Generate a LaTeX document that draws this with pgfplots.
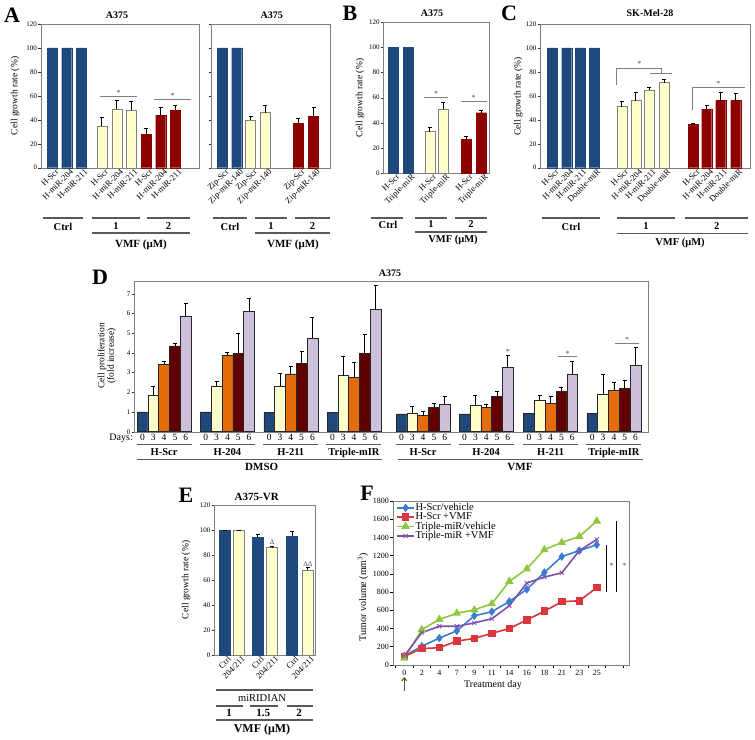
\documentclass[border=0pt]{standalone}
\usepackage{pgfplots}
\pgfplotsset{compat=1.18}
\usepackage{fontspec}
\setmainfont{Liberation Serif}
\usetikzlibrary{arrows.meta}
\definecolor{navy}{RGB}{31,73,125}
\definecolor{ly}{RGB}{255,255,204}
\definecolor{dred}{RGB}{140,0,0}
\definecolor{dorange}{RGB}{228,108,10}
\definecolor{maroon}{RGB}{96,0,0}
\definecolor{lav}{RGB}{204,192,218}
\definecolor{fblue}{RGB}{58,125,206}
\definecolor{fred}{RGB}{217,54,62}
\definecolor{fgreen}{RGB}{141,198,63}
\definecolor{fpurple}{RGB}{126,79,174}
\definecolor{olive}{RGB}{79,98,40}
\newcommand{\fs}[1]{\fontsize{#1}{#1}\selectfont}
\pgfplotsset{
  bax/.style={scale only axis, clip=false, axis line style={gray},
    ymin=0, ymax=120, ytick={0,20,...,120}, tick align=outside, ytick pos=left,
    major tick length=2.5pt, ytick style={black!80},
    xtick style={draw=none},
    yticklabel style={font=\fs{7}, inner sep=1pt},
    xticklabel style={font=\fs{8.5}, rotate=45, anchor=north east, inner sep=0.5pt, xshift=4pt},
    /pgf/number format/assume math mode=true},
  eb/.style={error bars/.cd, y dir=plus, y explicit,
    error bar style={black, line width=0.7pt},
    error mark options={rotate=90, mark size=2pt, black, line width=0.7pt}},
  bb/.style={ybar, bar shift=0pt, bar width=#1, fill=navy, draw=navy},
  by/.style={ybar, bar shift=0pt, bar width=#1, fill=ly, draw=gray},
  br/.style={ybar, bar shift=0pt, bar width=#1, fill=dred, draw=dred},
  db/.style={ybar, bar shift=0pt, bar width=10.8, fill=#1, draw=black!85, line width=0.5pt},
}
\tikzset{gl/.style={black!65, line width=1.2pt}, sg/.style={gray, line width=0.6pt},
  st/.style={font=\fs{8}, inner sep=0pt, text=black!70}}
\begin{document}
\begin{tikzpicture}
\path[use as bounding box] (0,0) rectangle (755pt,-739pt);
% ---------------- A left
\begin{axis}[bax, at={(40.7pt,-167.7pt)}, anchor=south west, width=158.3pt, height=143.7pt,
  xmin=40.7, xmax=199, xtick={52.2,66.7,81.2,101.7,116.7,131.2,146,160.7,175.2},
  xticklabels={H-Scr,H-miR-204,H-miR-211,H-Scr,H-miR-204,H-miR-211,H-Scr,H-miR-204,H-miR-211}]
\addplot[bb=10] coordinates {(52.2,100)(66.7,100)(81.2,100)};
\addplot[by=10, eb] coordinates {(101.7,35)+-(0,7) (116.7,49)+-(0,7) (131.2,48)+-(0,7)};
\addplot[br=10, eb] coordinates {(146,28)+-(0,5) (160.7,44)+-(0,6) (175.2,48)+-(0,4)};
\draw[sg] (axis cs:100,60) -- (axis cs:137,60);
\node[st, above] at (axis cs:118.5,60.5) {*};
\draw[sg] (axis cs:154,57) -- (axis cs:191,57);
\node[st, above] at (axis cs:172.5,57.5) {*};
\end{axis}
% ---------------- A right
\begin{axis}[bax, at={(211pt,-167.7pt)}, anchor=south west, width=119pt, height=143.7pt,
  xmin=211, xmax=330, yticklabels={}, xtick={222.3,236.7,250.5,265.3,298.3,313.6},
  xticklabels={Zip-Scr,Zip-miR-140,Zip-Scr,Zip-miR-140,Zip-Scr,Zip-miR-140}]
\addplot[bb=10] coordinates {(222.3,100)(236.7,100)};
\addplot[by=10, eb] coordinates {(250.5,40)+-(0,3) (265.3,46)+-(0,6)};
\addplot[br=10, eb] coordinates {(298.3,37)+-(0,4) (313.6,43)+-(0,7)};
\end{axis}
% ---------------- B
\begin{axis}[bax, at={(383.3pt,-173pt)}, anchor=south west, width=106pt, height=150.7pt,
  xmin=383.3, xmax=489.3, xtick={393,408,429.7,443,466.3,481.3},
  xticklabels={H-Scr,Triple-miR,H-Scr,Triple-miR,H-Scr,Triple-miR}]
\addplot[bb=10] coordinates {(393,100)(408,100)};
\addplot[by=10, eb] coordinates {(429.7,33)+-(0,3) (443,51)+-(0,5)};
\addplot[br=10, eb] coordinates {(466.3,27)+-(0,2) (481.3,48)+-(0,2)};
\draw[sg] (axis cs:424,60) -- (axis cs:447.7,60);
\node[st, above] at (axis cs:436,60.5) {*};
\draw[sg] (axis cs:460.7,57) -- (axis cs:486.7,57);
\node[st, above] at (axis cs:473.5,57.5) {*};
\end{axis}
% ---------------- C
\begin{axis}[bax, at={(540pt,-167.7pt)}, anchor=south west, width=210pt, height=143.7pt,
  xmin=540, xmax=750, xtick={552.3,566.7,580,594,621.7,635.7,649.3,664,693.3,706.7,720.7,735.7},
  xticklabels={H-Scr,H-miR-204,H-miR-211,Double-miR,H-Scr,H-miR-204,H-miR-211,Double-miR,H-Scr,H-miR-204,H-miR-211,Double-miR}]
\addplot[bb=10] coordinates {(552.3,100)(566.7,100)(580,100)(594,100)};
\addplot[by=10, eb] coordinates {(621.7,51)+-(0,4) (635.7,56)+-(0,7) (649.3,65)+-(0,2) (664,71)+-(0,3)};
\addplot[br=10, eb] coordinates {(693.3,36)+-(0,1) (706.7,49)+-(0,3) (720.7,56)+-(0,7) (735.7,56)+-(0,6)};
\draw[sg] (axis cs:616.7,69) -- (axis cs:616.7,83) -- (axis cs:661.7,83) -- (axis cs:661.7,79);
\draw[sg] (axis cs:650,79) -- (axis cs:671.7,79);
\node[st, above] at (axis cs:639.3,84) {*};
\draw[sg] (axis cs:692.7,48) -- (axis cs:692.7,67) -- (axis cs:745,67);
\node[st, above] at (axis cs:718.3,68) {*};
\end{axis}
% ---------------- D
\begin{axis}[scale only axis, clip=false, at={(134pt,-431.7pt)}, anchor=south west, width=513.7pt, height=151pt,
  axis line style={gray}, xmin=134, xmax=647.7, ymin=0, ymax=7.66, ytick={0,...,7},
  tick align=outside, ytick pos=left, major tick length=2.5pt, ytick style={black!80},
  xtick=\empty, yticklabel style={font=\fs{7}, inner sep=1pt},
  /pgf/number format/assume math mode=true]
\addplot[db=navy] coordinates {(142.5,1.0)(205.8,1.0)(269.2,0.97)(332.4,0.97)(401.5,0.9)(464.6,0.9)(529.0,0.93)(592.3,0.93)};
\addplot[db=ly, eb] coordinates {(153.3,1.87)+-(0,0.45) (216.6,2.32)+-(0,0.25) (280.0,2.32)+-(0,0.64) (343.2,2.84)+-(0,0.96) (412.3,0.96)+-(0,0.31) (475.4,1.35)+-(0,0.49) (539.8,1.59)+-(0,0.27) (603.1,1.89)+-(0,1.02)};
\addplot[db=dorange, eb] coordinates {(164.1,3.42)+-(0,0.13) (227.4,3.86)+-(0,0.16) (290.8,2.93)+-(0,0.37) (354.0,2.74)+-(0,0.78) (423.1,0.81)+-(0,0.2) (486.2,1.22)+-(0,0.18) (550.6,1.44)+-(0,0.34) (613.9,2.11)+-(0,0.41)};
\addplot[db=maroon, eb] coordinates {(174.9,4.36)+-(0,0.1) (238.2,3.98)+-(0,1.0) (301.6,3.48)+-(0,0.58) (364.8,3.97)+-(0,0.98) (433.9,1.23)+-(0,0.21) (497.0,1.78)+-(0,0.28) (561.4,2.06)+-(0,0.17) (624.7,2.21)+-(0,0.38)};
\addplot[db=lav, eb] coordinates {(185.7,5.87)+-(0,0.62) (249.0,6.09)+-(0,0.7) (312.4,4.74)+-(0,1.07) (375.6,6.2)+-(0,1.24) (444.7,1.39)+-(0,0.42) (507.8,3.25)+-(0,0.62) (572.2,2.94)+-(0,0.64) (635.5,3.38)+-(0,0.92)};
\node[st, above] at (axis cs:507.8,3.9) {*};
\draw[sg] (axis cs:558.3,3.8) -- (axis cs:576.7,3.8);
\node[st, above] at (axis cs:567.5,3.83) {*};
\draw[sg] (axis cs:615,4.48) -- (axis cs:639.3,4.48);
\node[st, above] at (axis cs:627,4.51) {*};
\end{axis}
% ---------------- E
\begin{axis}[bax, at={(214pt,-655pt)}, anchor=south west, width=101pt, height=150pt,
  xmin=214, xmax=315, xtick={224.5,238.5,257.5,272,292,307.8},
  xticklabels={Ctrl,204/211,Ctrl,204/211,Ctrl,204/211}]
\addplot[bb=10.7, eb] coordinates {(224.5,100)+-(0,0) (257.5,94)+-(0,2.5) (292,95)+-(0,4)};
\addplot[by=10.7, eb] coordinates {(238.5,100)+-(0,0) (272,86)+-(0,1) (307.8,68)+-(0,2)};
\node[font=\fs{7}, inner sep=0pt, above, text=black!70] at (axis cs:272,88) {Δ};
\node[font=\fs{7}, inner sep=0pt, above, text=black!70] at (axis cs:307.8,71) {ΔΔ};
\end{axis}
% ---------------- F
\begin{axis}[scale only axis, clip=false, at={(393pt,-665pt)}, anchor=south west, width=236pt, height=164pt,
  axis line style={gray}, xmin=-0.646, xmax=12.84, ymin=0, ymax=1800,
  ytick={0,200,...,1800}, tick align=outside, ytick pos=left, xtick pos=bottom,
  major tick length=3pt, tick style={black, line width=0.7pt},
  xtick={-0.5,0.5,...,12.5}, xticklabels={},
  extra x ticks={0,...,11}, extra x tick labels={0,2,4,7,9,11,14,16,18,21,23,25},
  extra x tick style={major tick length=0pt, xticklabel style={font=\fs{8}, yshift=-1.5pt}},
  yticklabel style={font=\fs{8}, inner sep=1pt},
  /pgf/number format/assume math mode=true, /pgf/number format/1000 sep={},
  legend style={at={(0.013,0.99)}, anchor=north west, draw=none, fill=none, font=\fs{10.5},
    row sep=-0.5pt, inner sep=0pt, nodes={inner sep=0.6pt}}, legend cell align=left]
\addplot[fblue, line width=1.6pt, mark=diamond*, mark size=3pt] coordinates {(0,100)(1,206)(2,295)(3,375)(4,540)(5,585)(6,697)(7,830)(8,1015)(9,1190)(10,1255)(11,1320)};
\addlegendentry{H-Scr/vehicle}
\addplot[fred, line width=1.6pt, mark=square*, mark size=3pt] coordinates {(0,95)(1,180)(2,190)(3,262)(4,292)(5,348)(6,400)(7,495)(8,590)(9,695)(10,705)(11,850)};
\addlegendentry{H-Scr +VMF}
\addplot[fgreen, line width=1.6pt, mark=triangle*, mark size=3.3pt] coordinates {(0,75)(1,388)(2,500)(3,568)(4,605)(5,672)(6,918)(7,1055)(8,1265)(9,1345)(10,1410)(11,1580)};
\addlegendentry{Triple-miR/vehicle}
\addplot[fpurple, line width=1.6pt, mark=x, mark size=3pt, mark options={line width=0.8pt}] coordinates {(0,100)(1,355)(2,425)(3,425)(4,462)(5,508)(6,650)(7,900)(8,965)(9,1012)(10,1255)(11,1378)};
\addlegendentry{Triple-miR +VMF}
\end{axis}
% ---------------- annotations
\begin{scope}[x=1pt,y=-1pt]
\foreach \l/\x/\y in {A/12/15, B/350/13, C/509/13, D/100/277, E/186/495, F/367/493}
  \node[font=\bfseries\fs{22}] at (\x,\y) {\l};
\foreach \t/\x/\y in {A375/117/15.7, A375/271.7/15.7, A375/432/13.5, SK-Mel-28/650/13.5, A375/390/273.5}
  \node[font=\bfseries\fs{10}] at (\x,\y) {\t};
\node[font=\bfseries\fs{11}] at (256.7,497) {A375-VR};
\foreach \x/\y in {15/96, 360/98, 518.3/96.7, 186/580}
  \node[rotate=90, font=\fs{9.5}] at (\x,\y) {Cell growth rate (\%)};
\node[rotate=90, font=\fs{9.5}, align=center] at (106.7,356) {Cell proliferation\\(fold increase)};
\node[rotate=90, font=\fs{10}] at (363,597) {Tumor volume (mm\textsuperscript{3})};
\node[font=\fs{10}] at (493,685) {Treatment day};
\draw[-{Straight Barb[length=3pt,width=5pt]}, olive, line width=1.1pt] (404.3,691) -- (404.3,677);
\draw[black, line width=1pt] (606.7,545) -- (606.7,591.7);
\draw[black, line width=1pt] (616.7,521) -- (616.7,591.7);
\node[st] at (611.5,566) {*};
\node[st] at (624.3,566) {*};
% group lines top row
\foreach \a/\b/\y in {43/83/218, 92/140/218, 147/190/218, 92/190/233,
  213/247/218, 255/287/218, 295/330/218, 255/330/233,
  370.7/403/218, 415/446.7/218, 455/486.7/218, 415/486.7/232,
  541.7/600/218, 616.7/675/218, 685/748.3/218, 616.7/748.3/233.3}
  \draw[gl] (\a,\y) -- (\b,\y);
\foreach \t/\x/\y in {Ctrl/63/226.5, 1/116/226.5, 2/168.5/226.5,
  Ctrl/230/226.5, 1/271/226.5, 2/312.5/226.5,
  Ctrl/388/224.5, 1/431/224.5, 2/471/224.5,
  Ctrl/571/226.5, 1/646/226.5, 2/716.7/226.5}
  \node[font=\bfseries\fs{10.5}] at (\x,\y) {\t};
\foreach \x/\y/\s in {141/245/11, 293/245/11, 453/240/10.5, 680/242.5/10.5}
  \node[font=\bfseries\fs{\s}] at (\x,\y) {VMF (μM)};
% D labels
\node[anchor=east, font=\fs{10}, inner sep=0pt] at (133,438) {Days:};
\foreach \s/\n in {142.5/H-Scr, 205.8/H-204, 269.2/H-211, 332.4/Triple-mIR, 401.5/H-Scr, 464.6/H-204, 529.0/H-211, 592.3/Triple-mIR} {
  \foreach \k/\d in {0/0,1/3,2/4,3/5,4/6}
    \node[font=\fs{9.5}, inner sep=0pt] at (\s+10.8*\k,437.5) {\d};
  \draw[black!65, line width=0.8pt] (\s-6,444) -- (\s+49,444);
  \node[font=\bfseries\fs{10.5}] at (\s+21.6,452.5) {\n};
}
\draw[black!65, line width=1pt] (137.3,459.3) -- (381.7,459.3);
\draw[black!65, line width=1pt] (398.3,459.3) -- (643.3,459.3);
\node[font=\bfseries\fs{11}] at (261.7,467) {DMSO};
\node[font=\bfseries\fs{11}] at (520,467) {VMF};
% E labels
\draw[gl] (216,690) -- (313,690);
\node[font=\fs{10.5}] at (262,698) {miRIDIAN};
\foreach \a/\b in {216/243, 250/278, 286.7/313.3} \draw[gl] (\a,706) -- (\b,706);
\foreach \t/\x in {1/229, 1.5/263.3, 2/299} \node[font=\bfseries\fs{11}] at (\x,713) {\t};
\draw[gl] (216,720) -- (313,720);
\node[font=\bfseries\fs{12}] at (262,729.5) {VMF (μM)};
\end{scope}
\end{tikzpicture}
\end{document}
